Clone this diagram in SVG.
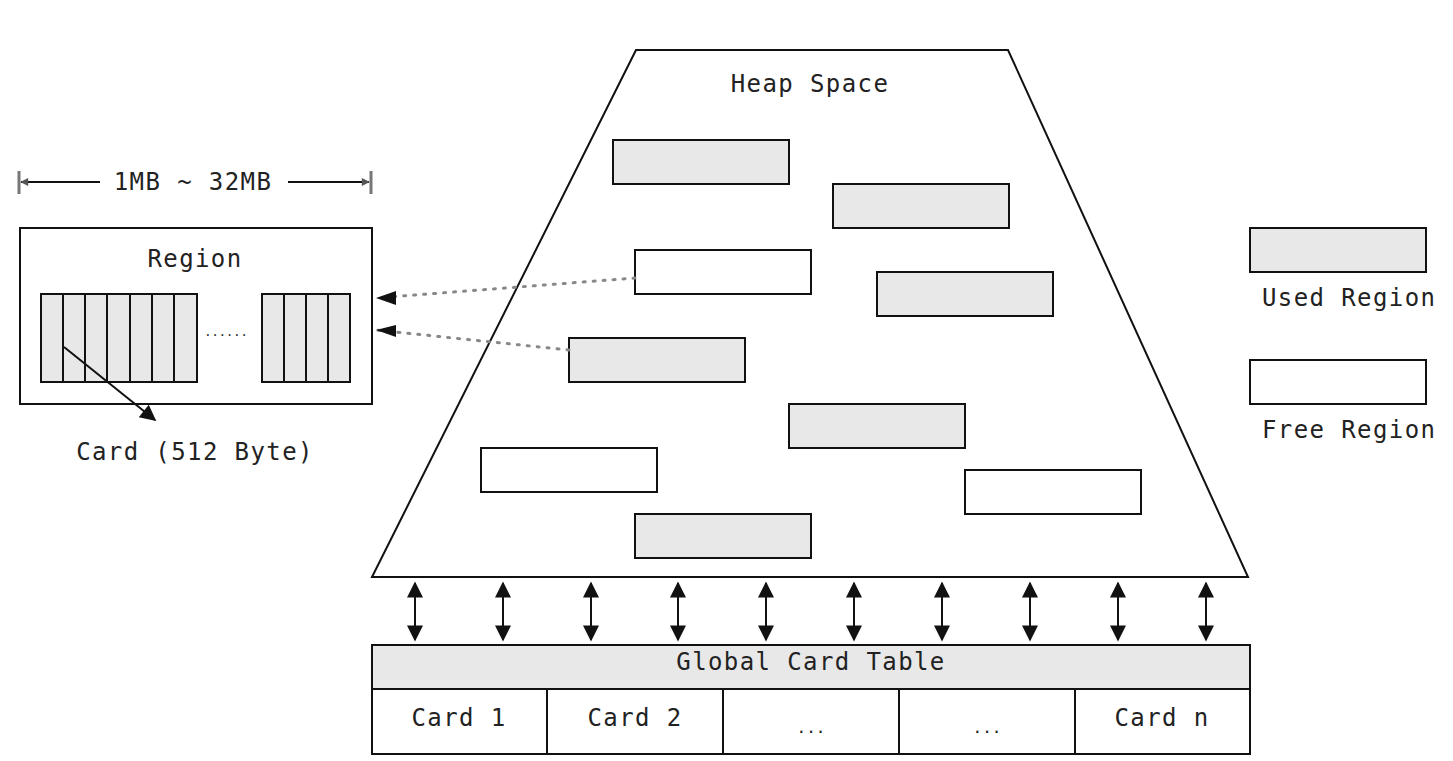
<svg xmlns="http://www.w3.org/2000/svg" width="1453" height="761" viewBox="0 0 1453 761">
<style>
text{font-family:"DejaVu Sans Mono","Liberation Mono",monospace;font-size:24px;fill:#222;letter-spacing:1.4px}
.c{text-anchor:middle}
.used{fill:#e8e8e8;stroke:#111;stroke-width:2}
.free{fill:#fff;stroke:#111;stroke-width:2}
.ln{stroke:#111;stroke-width:2;fill:none}
.dot{stroke:#888;stroke-width:3;stroke-dasharray:2 8;stroke-linecap:round;fill:none}
</style>
<defs>
<marker id="ah" viewBox="0 0 10 10" refX="9" refY="5" markerUnits="userSpaceOnUse" markerWidth="18" markerHeight="16" orient="auto-start-reverse">
<path d="M0,0 L10,5 L0,10 z" fill="#111"/>
</marker>
<marker id="ah2" viewBox="0 0 10 10" refX="9" refY="5" markerUnits="userSpaceOnUse" markerWidth="22" markerHeight="16" orient="auto">
<path d="M0,0 L10,5 L0,10 z" fill="#111"/>
</marker>
<marker id="ahs" viewBox="0 0 10 10" refX="9" refY="5" markerUnits="userSpaceOnUse" markerWidth="12" markerHeight="8" orient="auto-start-reverse">
<path d="M0,0 L10,5 L0,10 z" fill="#555"/>
</marker>
</defs>

<g id="heap">
<path d="M636,50 L1008,50 L1248,577 L372,577 Z" class="ln"/>
<text x="810" y="92" class="c">Heap Space</text>
</g>
<g id="heap-regions">
<rect class="used" x="613" y="140" width="176" height="44"/>
<rect class="used" x="833" y="184" width="176" height="44"/>
<rect class="free" x="635" y="250" width="176" height="44"/>
<rect class="used" x="877" y="272" width="176" height="44"/>
<rect class="used" x="569" y="338" width="176" height="44"/>
<rect class="used" x="789" y="404" width="176" height="44"/>
<rect class="free" x="481" y="448" width="176" height="44"/>
<rect class="free" x="965" y="470" width="176" height="44"/>
<rect class="used" x="635" y="514" width="176" height="44"/>
</g>

<g id="legend">
<rect class="used" x="1250" y="228" width="176" height="44"/>
<text x="1262" y="306">Used Region</text>
<rect class="free" x="1250" y="360" width="176" height="44"/>
<text x="1262" y="438">Free Region</text>
</g>

<g id="dimension">
<line x1="19" y1="171" x2="19" y2="194" stroke="#777" stroke-width="3"/>
<line x1="371" y1="171" x2="371" y2="194" stroke="#777" stroke-width="3"/>
<line x1="100" y1="182" x2="21" y2="182" class="ln" marker-end="url(#ahs)"/>
<line x1="288" y1="182" x2="369" y2="182" class="ln" marker-end="url(#ahs)"/>
<text x="193" y="190" class="c">1MB ~ 32MB</text>
</g>

<g id="region">
<rect x="20" y="228" width="352" height="176" class="free"/>
<text x="195" y="267" class="c">Region</text>
<rect class="used" x="41" y="294" width="156" height="88"/>
<path class="ln" d="M63,294V382M85,294V382M107,294V382M130,294V382M152,294V382M174,294V382"/>
<rect class="used" x="262" y="294" width="88" height="88"/>
<path class="ln" d="M284,294V382M306,294V382M328,294V382"/>
<text x="226" y="336" class="c" style="font-size:12px;letter-spacing:0" fill="#555">......</text>
<line x1="64" y1="347" x2="155" y2="420" class="ln" marker-end="url(#ah2)"/>
<text x="195" y="460" class="c">Card (512 Byte)</text>
</g>

<g id="card-table">
<rect class="used" x="372" y="645" width="878" height="44"/>
<text x="811" y="670" class="c">Global Card Table</text>
<rect class="free" x="372" y="689" width="878" height="65"/>
<path class="ln" d="M547,689V754M723,689V754M899,689V754M1075,689V754"/>
<text x="459" y="726" class="c">Card 1</text>
<text x="635" y="726" class="c">Card 2</text>
<text x="811" y="733" class="c" style="font-size:16px;letter-spacing:0" fill="#777">...</text>
<text x="987" y="733" class="c" style="font-size:16px;letter-spacing:0" fill="#777">...</text>
<text x="1162" y="726" class="c">Card n</text>
</g>

<g id="connectors">
<line x1="635" y1="278" x2="376" y2="298" class="dot"/>
<line x1="569" y1="350" x2="376" y2="330" class="dot"/>
<path d="M376,298 L396,291 L396,305 Z" fill="#111"/>
<path d="M376,330 L396,325 L396,337 Z" fill="#111"/>
<g class="ln" stroke-width="2.5" marker-start="url(#ah)" marker-end="url(#ah)">
<line x1="415" y1="583" x2="415" y2="640"/>
<line x1="503" y1="583" x2="503" y2="640"/>
<line x1="591" y1="583" x2="591" y2="640"/>
<line x1="678" y1="583" x2="678" y2="640"/>
<line x1="766" y1="583" x2="766" y2="640"/>
<line x1="854" y1="583" x2="854" y2="640"/>
<line x1="942" y1="583" x2="942" y2="640"/>
<line x1="1030" y1="583" x2="1030" y2="640"/>
<line x1="1118" y1="583" x2="1118" y2="640"/>
<line x1="1206" y1="583" x2="1206" y2="640"/>
</g>
</g>
</svg>
